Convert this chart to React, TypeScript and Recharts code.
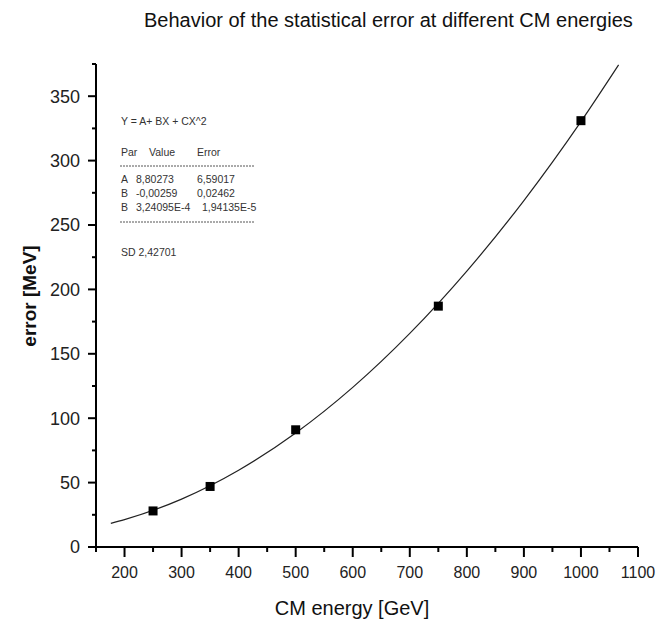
import React from "react";
import { ComposedChart, Line, Scatter, XAxis, YAxis } from "recharts";

// measured points (CM energy [GeV], error [MeV])
const energies = [250, 350, 500, 750, 1000];
const errors = [28, 47, 91, 187, 331];

// fitted parabola
const fitX = [176, 200, 300, 400, 500, 600, 700, 800, 900, 1000, 1066];
const fitY = [18.4, 21.3, 37.2, 59.6, 88.5, 123.9, 165.8, 214.2, 269.0, 330.3, 374.3];

const xTicks = [150, 200, 250, 300, 350, 400, 450, 500, 550, 600, 650, 700, 750, 800, 850, 900, 950, 1000, 1050, 1100];
const yTicks = [0, 25, 50, 75, 100, 125, 150, 175, 200, 225, 250, 275, 300, 325, 350, 375];

const fitRows = [
  ["A", "8,80273", "6,59017"],
  ["B", "-0,00259", "0,02462"],
  ["B", "3,24095E-4", "1,94135E-5"],
];

const points = energies.map((x, i) => ({ x, y: errors[i] }));
const curve = fitX.map((x, i) => ({ x, y: fitY[i] }));

const FONT = "'Liberation Sans', Arial, sans-serif";

function XTick({ x, y, payload }: any) {
  const major = payload.value % 100 === 0;
  return (
    <g>
      <line x1={x} x2={x} y1={y} y2={y + (major ? 10 : 5)} stroke="#000" strokeWidth={2} />
      {major && (
        <text x={x} y={y + 31} textAnchor="middle" fontSize={16} fill="#222" fontFamily={FONT}>
          {payload.value}
        </text>
      )}
    </g>
  );
}

function YTick({ x, y, payload }: any) {
  const major = payload.value % 50 === 0;
  return (
    <g>
      <line x1={x} x2={x - (major ? 8 : 4)} y1={y} y2={y} stroke="#000" strokeWidth={2} />
      {major && (
        <text x={x - 16} y={y} dy="0.36em" textAnchor="end" fontSize={18} fill="#222" fontFamily={FONT}>
          {payload.value}
        </text>
      )}
    </g>
  );
}

function Square({ cx, cy }: any) {
  return <rect x={cx - 4.5} y={cy - 4.5} width={9} height={9} fill="#000" />;
}

export default function App() {
  const rowY = [179, 193, 207];
  return (
    <div style={{ position: "relative", width: 659, height: 625, background: "#fff" }}>
      <style>{`body{margin:0}`}</style>
      <ComposedChart width={659} height={625} margin={{ top: 64, right: 21, bottom: 0, left: 0 }}>
        <XAxis
          dataKey="x"
          type="number"
          domain={[150, 1100]}
          ticks={xTicks}
          interval={0}
          height={78}
          tickSize={0}
          tickMargin={0}
          tickLine={false}
          axisLine={{ stroke: "#000", strokeWidth: 2 }}
          tick={<XTick />}
          allowDataOverflow
        />
        <YAxis
          dataKey="y"
          type="number"
          domain={[0, 375]}
          ticks={yTicks}
          interval={0}
          width={96}
          tickSize={0}
          tickMargin={0}
          tickLine={false}
          axisLine={{ stroke: "#000", strokeWidth: 2 }}
          tick={<YTick />}
          allowDataOverflow
        />
        <Line
          data={curve}
          dataKey="y"
          type="monotone"
          stroke="#222"
          strokeWidth={1.2}
          dot={false}
          isAnimationActive={false}
        />
        <Scatter data={points} dataKey="y" shape={<Square />} isAnimationActive={false} />
      </ComposedChart>

      <svg
        width={659}
        height={625}
        style={{ position: "absolute", left: 0, top: 0, pointerEvents: "none" }}
        fontFamily={FONT}
      >
        <text x={144} y={27} fontSize={20} fill="#111">
          Behavior of the statistical error at different CM energies
        </text>
        <text
          transform="translate(29,296) rotate(-90)"
          textAnchor="middle"
          dy="0.35em"
          fontSize={19}
          fontWeight="bold"
          fill="#111"
        >
          error [MeV]
        </text>
        <text x={352} y={615} textAnchor="middle" fontSize={20} fill="#111">
          CM energy [GeV]
        </text>

        <g fontSize={10.5} fill="#333">
          <text x={121} y={125}>Y = A+ BX + CX^2</text>
          <text x={121} y={156}>Par</text>
          <text x={149} y={156}>Value</text>
          <text x={197} y={156}>Error</text>
          <line x1={120} x2={255} y1={166} y2={166} stroke="#555" strokeDasharray="2 1" />
          {fitRows.map((r, i) => (
            <g key={i}>
              <text x={121} y={rowY[i] + 4}>{r[0]}</text>
              <text x={136} y={rowY[i] + 4}>{r[1]}</text>
              <text x={i === 2 ? 202 : 197} y={rowY[i] + 4}>{r[2]}</text>
            </g>
          ))}
          <line x1={120} x2={255} y1={222} y2={222} stroke="#555" strokeDasharray="2 1" />
          <text x={121} y={256}>SD  2,42701</text>
        </g>
      </svg>
    </div>
  );
}
